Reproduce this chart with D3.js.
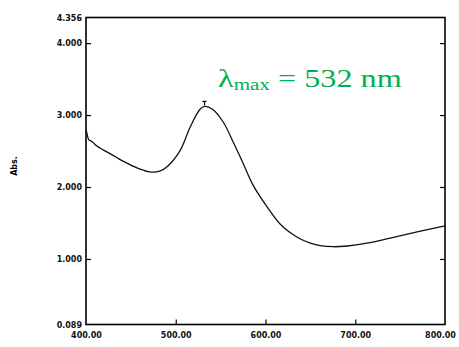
<!DOCTYPE html>
<html>
<head>
<meta charset="utf-8">
<script src="https://cdn.jsdelivr.net/npm/d3@7"></script>
<style>
  body { margin: 0; background: #fff; }
  svg { display: block; }
  .tick text { font-family: "DejaVu Sans", Verdana, sans-serif; font-weight: bold; font-size: 8px; fill: #111; }
</style>
</head>
<body>
<div id="chart"></div>
<script>
// spectrum
var wavelength = [400, 401, 403, 407, 411, 420, 433, 438, 460, 471, 482, 491, 505, 516, 527, 532,
                  541, 553, 564, 575, 586, 602, 616, 627, 640, 650, 661, 676, 691, 713, 739, 769, 800]
var absorbance = [2.79, 2.75, 2.66, 2.63, 2.58, 2.51, 2.42, 2.38, 2.25, 2.21, 2.22, 2.29, 2.51, 2.83, 3.08, 3.12,
                  3.08, 2.90, 2.625, 2.33, 2.03, 1.72, 1.49, 1.37, 1.27, 1.22, 1.185, 1.17, 1.18, 1.22, 1.29, 1.375, 1.46]
var xLabels = [400, 500, 600, 700, 800]
var xTicks = [500, 600, 700]
var yLabels = [0.089, 1, 2, 3, 4, 4.356]
var yTicks = [1, 2, 3, 4]
var peakNm = 532
var peakAbs = 3.12

var w = 459
var h = 347
var margin = {left: 86, top: 17.5, right: 14, bottom: 22.5}

var svg = d3.select("#chart")
    .append("svg")
    .attr("width", w)
    .attr("height", h)

var x = d3.scaleLinear()
    .domain([400, 800])
    .range([margin.left, w - margin.right])

var y = d3.scaleLinear()
    .domain([0.089, 4.356])
    .range([h - margin.bottom, margin.top])

// axes
var left = svg.append("g")
    .attr("transform", "translate(" + margin.left + ",0)")
    .call(d3.axisLeft(y).tickValues(yLabels).tickSizeInner(-5).tickSizeOuter(0).tickPadding(4)
        .tickFormat(d3.format(".3f")))
left.select(".domain").remove()
left.selectAll(".tick line")
    .attr("stroke", "#000")
    .attr("stroke-width", 1.2)
    .attr("opacity", function(d) { return yTicks.indexOf(d) >= 0 ? 1 : 0 })

var right = svg.append("g")
    .attr("transform", "translate(" + (w - margin.right) + ",0)")
    .call(d3.axisRight(y).tickValues(yTicks).tickSizeInner(-5).tickSizeOuter(0).tickFormat(""))
right.select(".domain").remove()
right.selectAll(".tick line").attr("stroke", "#000").attr("stroke-width", 1.2)

var bottom = svg.append("g")
    .attr("transform", "translate(0," + (h - margin.bottom) + ")")
    .call(d3.axisBottom(x).tickValues(xLabels).tickSizeInner(-5).tickSizeOuter(0).tickPadding(8)
        .tickFormat(d3.format(".2f")))
bottom.select(".domain").remove()
bottom.selectAll(".tick line")
    .attr("stroke", "#000")
    .attr("stroke-width", 1.2)
    .attr("opacity", function(d) { return xTicks.indexOf(d) >= 0 ? 1 : 0 })
bottom.selectAll(".tick text")
    .attr("dx", function(d) { return d === 800 ? -5 : 0 })

// frame
svg.append("rect")
    .attr("x", x(400))
    .attr("y", y(4.356))
    .attr("width", x(800) - x(400))
    .attr("height", y(0.089) - y(4.356))
    .attr("fill", "none")
    .attr("stroke", "#000")
    .attr("stroke-width", 1.6)

// axis titles
svg.append("text")
    .attr("transform", "translate(17,166) rotate(-90)")
    .attr("text-anchor", "middle")
    .style("font-family", "DejaVu Sans, sans-serif")
    .style("font-weight", "bold")
    .style("font-size", "8px")
    .text("Abs.")

// x title sits mostly below the window, as in the original
svg.append("text")
    .attr("x", (x(400) + x(800)) / 2)
    .attr("y", 352)
    .attr("text-anchor", "middle")
    .style("font-family", "DejaVu Sans, sans-serif")
    .style("font-weight", "bold")
    .style("font-size", "8px")
    .text("nm")

// spectrum
var pts = wavelength.map(function(d, i) { return [d, absorbance[i]] })

var line = d3.line()
    .x(function(d) { return x(d[0]) })
    .y(function(d) { return y(d[1]) })
    .curve(d3.curveCatmullRom.alpha(0.5))

svg.append("path")
    .attr("d", line(pts))
    .attr("fill", "none")
    .attr("stroke", "#111")
    .attr("stroke-width", 1.3)

// peak marker
var px = x(peakNm), py = y(peakAbs)
svg.append("path")
    .attr("d", "M" + px + "," + (py - 1) + "V" + (py - 5) + "M" + (px - 2) + "," + (py - 5) + "H" + (px + 2))
    .attr("stroke", "#000")
    .attr("stroke-width", 1.2)
    .attr("fill", "none")

// annotation
var note = svg.append("text")
    .attr("transform", "translate(218,87) scale(1.24,1)")
    .style("font-family", "Liberation Serif, Times New Roman, serif")
    .style("font-size", "26px")
    .attr("fill", "#00b050")
note.append("tspan").text("λ")
note.append("tspan").attr("dy", 3).style("font-size", "17px").text("max")
note.append("tspan").attr("dy", -3).text(" = " + peakNm + " nm")
</script>
</body>
</html>
